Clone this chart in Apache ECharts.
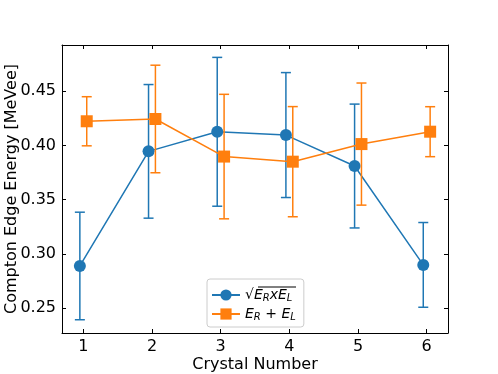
<!DOCTYPE html>
<html>
<head>
<meta charset="utf-8">
<script src="https://cdn.jsdelivr.net/npm/echarts@6/dist/echarts.min.js"></script>
<style>
  html, body { margin: 0; padding: 0; background: #fff; }
  #chart { width: 498px; height: 374px; }
</style>
</head>
<body>
<div id="chart"></div>
<script>
// crystal index and the two energy estimates (MeVee) with their symmetric errors
const crystals = [1, 2, 3, 4, 5, 6];
const geoMean = [0.289, 0.3945, 0.4125, 0.4095, 0.381, 0.290];
const geoErr = [0.0495, 0.0615, 0.0685, 0.0575, 0.057, 0.039];
const sumVal = [0.4222, 0.4243, 0.3897, 0.385, 0.4012, 0.4126];
const sumErr = [0.0226, 0.0495, 0.0573, 0.0507, 0.0562, 0.023];
const xTicks = [1, 2, 3, 4, 5, 6];
const yTicks = [0.25, 0.30, 0.35, 0.40, 0.45];

const BLUE = '#1f77b4';
const ORANGE = '#ff7f0e';
const FONT = 'DejaVu Sans';
const shift = 0.05; // small horizontal dodge between the two series

const pts = (vals, dx) => crystals.map((c, i) => [c + dx, vals[i]]);
const bars = (vals, errs, dx) => crystals.map((c, i) => [c + dx, vals[i] - errs[i], vals[i] + errs[i]]);

function errRender(color) {
  return function (params, api) {
    const top = api.coord([api.value(0), api.value(2)]);
    const bot = api.coord([api.value(0), api.value(1)]);
    const w = 5;
    const st = { stroke: color, lineWidth: 1.5 };
    return {
      type: 'group',
      children: [
        { type: 'line', shape: { x1: top[0], y1: top[1], x2: bot[0], y2: bot[1] }, style: st },
        { type: 'line', shape: { x1: top[0] - w, y1: top[1], x2: top[0] + w, y2: top[1] }, style: st },
        { type: 'line', shape: { x1: bot[0] - w, y1: bot[1], x2: bot[0] + w, y2: bot[1] }, style: st }
      ]
    };
  };
}

const axisLine = { show: true, lineStyle: { color: '#000', width: 1 } };
const tickStyle = { inside: true, length: 4, lineStyle: { color: '#000', width: 1 } };

const chart = echarts.init(document.getElementById('chart'));
chart.setOption({
  animation: false,
  grid: { left: 62, right: 50, top: 45, bottom: 41, outerBoundsMode: 'none', containLabel: false },
  xAxis: [
    {
      type: 'value', min: 0.69, max: 6.31,
      name: 'Crystal Number', nameLocation: 'middle', nameGap: 24, nameMoveOverlap: false,
      nameTextStyle: { fontFamily: FONT, fontSize: 16, color: '#000' },
      axisLine: axisLine,
      axisTick: Object.assign({ customValues: xTicks }, tickStyle),
      axisLabel: { customValues: xTicks, fontFamily: FONT, fontSize: 16, color: '#000', margin: 6 },
      splitLine: { show: false }
    },
    {
      type: 'value', min: 0.69, max: 6.31, position: 'top',
      axisLine: axisLine,
      axisTick: Object.assign({ customValues: xTicks }, tickStyle),
      axisLabel: { show: false },
      splitLine: { show: false }
    }
  ],
  yAxis: [
    {
      type: 'value', min: 0.2273, max: 0.4924,
      name: 'Compton Edge Energy [MeVee]', nameLocation: 'middle', nameGap: 42, nameMoveOverlap: false,
      nameTextStyle: { fontFamily: FONT, fontSize: 16, color: '#000' },
      axisLine: axisLine,
      axisTick: Object.assign({ customValues: yTicks }, tickStyle),
      axisLabel: { customValues: yTicks, fontFamily: FONT, fontSize: 16, color: '#000', margin: 6,
        formatter: v => v.toFixed(2) },
      splitLine: { show: false }
    },
    {
      type: 'value', min: 0.2273, max: 0.4924, position: 'right',
      axisLine: axisLine,
      axisTick: Object.assign({ customValues: yTicks }, tickStyle),
      axisLabel: { show: false },
      splitLine: { show: false }
    }
  ],
  legend: {
    orient: 'vertical', left: 207, top: 279,
    padding: [9, 8, 5, 4],
    itemGap: 4, itemWidth: 28, itemHeight: 14,
    backgroundColor: 'rgba(255,255,255,0.8)',
    borderColor: '#cccccc', borderWidth: 1, borderRadius: 3,
    data: ['geo', 'sum'],
    formatter: name => name === 'geo'
      ? '{n|√}{e|E}{s|R}{e|x}{e|E}{s|L}'
      : '{e|E}{s|R}{n| + }{e|E}{s|L}',
    textStyle: {
      fontFamily: FONT, color: '#000',
      rich: {
        n: { fontFamily: FONT, fontSize: 14, color: '#000' },
        e: { fontFamily: FONT, fontSize: 14, fontStyle: 'italic', color: '#000' },
        s: { fontFamily: FONT, fontSize: 10, fontStyle: 'italic', color: '#000', padding: [6, 0, 0, 0] }
      }
    }
  },
  graphic: [
    { type: 'line', z: 100, shape: { x1: 258, y1: 287, x2: 296, y2: 287 }, style: { stroke: '#000', lineWidth: 1 } }
  ],
  series: [
    {
      name: 'geoErr', type: 'custom', z: 2, silent: true,
      data: bars(geoMean, geoErr, -shift),
      encode: { x: 0, y: [1, 2] },
      renderItem: errRender(BLUE)
    },
    {
      name: 'geo', type: 'line', z: 3,
      data: pts(geoMean, -shift),
      symbol: 'circle', symbolSize: 12,
      itemStyle: { color: BLUE },
      lineStyle: { color: BLUE, width: 1.5 }
    },
    {
      name: 'sumErr', type: 'custom', z: 4, silent: true,
      data: bars(sumVal, sumErr, shift),
      encode: { x: 0, y: [1, 2] },
      renderItem: errRender(ORANGE)
    },
    {
      name: 'sum', type: 'line', z: 5,
      data: pts(sumVal, shift),
      symbol: 'rect', symbolSize: 12,
      itemStyle: { color: ORANGE },
      lineStyle: { color: ORANGE, width: 1.5 }
    }
  ]
});
</script>
</body>
</html>
